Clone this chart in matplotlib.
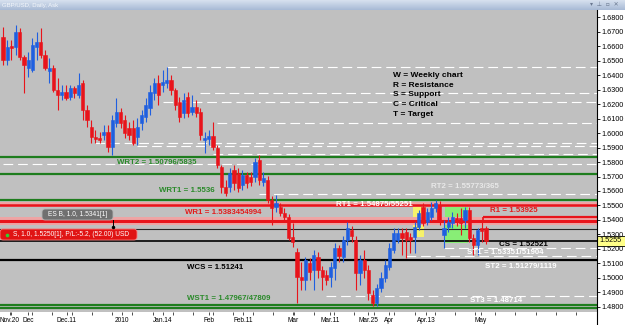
import numpy as np
import matplotlib
matplotlib.use("Agg")
import matplotlib.pyplot as plt
from matplotlib.patches import Rectangle, FancyBboxPatch
from matplotlib.colors import LinearSegmentedColormap

plt.rcParams['font.family'] = ['Liberation Sans', 'DejaVu Sans']
plt.rcParams['lines.scale_dashes'] = False

# GBP/USD daily candles, Nov 2009 - May 2010
opens = [1.6662, 1.6503, 1.6600, 1.6593, 1.6696, 1.6524, 1.6448, 1.6434, 1.6593, 1.6627,
         1.6538, 1.6427, 1.6448, 1.6296, 1.6262, 1.6282, 1.6248, 1.6310, 1.6262, 1.6344,
         1.6158, 1.6041, 1.5972, 1.5965, 1.5986, 1.6006, 1.5903, 1.6068, 1.6144, 1.6089,
         1.6034, 1.6034, 1.5972, 1.6068, 1.6110, 1.6172, 1.6276, 1.6344, 1.6331, 1.6344,
         1.6365, 1.6296, 1.6213, 1.6138, 1.6248, 1.6144, 1.6179, 1.6144, 1.5951, 1.5958,
         1.5979, 1.5896, 1.5765, 1.5627, 1.5627, 1.5744, 1.5724, 1.5641, 1.5710, 1.5696,
         1.5696, 1.5813, 1.5661, 1.5675, 1.5537, 1.5489, 1.5489, 1.5447, 1.5420, 1.5282,
         1.5179, 1.5006, 1.4985, 1.5102, 1.5054, 1.5144, 1.5054, 1.5020, 1.5006, 1.5068,
         1.5206, 1.5144, 1.5261, 1.5330, 1.5261, 1.5034, 1.5123, 1.5054, 1.4882, 1.4826,
         1.4930, 1.4999, 1.5075, 1.5192, 1.5261, 1.5310, 1.5316, 1.5282, 1.5282, 1.5351,
         1.5489, 1.5385, 1.5420, 1.5482, 1.5503, 1.5296, 1.5351, 1.5379, 1.5413, 1.5413,
         1.5399, 1.5468, 1.5275, 1.5227, 1.5344, 1.5344]
highs = [1.6731, 1.6641, 1.6641, 1.6745, 1.6724, 1.6538, 1.6558, 1.6655, 1.6696, 1.6724,
         1.6572, 1.6517, 1.6469, 1.6379, 1.6331, 1.6331, 1.6331, 1.6324, 1.6413, 1.6365,
         1.6193, 1.6089, 1.6020, 1.6006, 1.6055, 1.6055, 1.6124, 1.6241, 1.6172, 1.6124,
         1.6075, 1.6089, 1.6103, 1.6158, 1.6241, 1.6331, 1.6379, 1.6400, 1.6434, 1.6455,
         1.6400, 1.6310, 1.6248, 1.6276, 1.6282, 1.6262, 1.6227, 1.6172, 1.6006, 1.6020,
         1.6075, 1.5917, 1.5779, 1.5675, 1.5758, 1.5779, 1.5758, 1.5744, 1.5731, 1.5731,
         1.5827, 1.5848, 1.5731, 1.5703, 1.5565, 1.5572, 1.5516, 1.5482, 1.5441, 1.5379,
         1.5206, 1.5109, 1.5144, 1.5137, 1.5192, 1.5179, 1.5082, 1.5054, 1.5109, 1.5240,
         1.5227, 1.5289, 1.5385, 1.5358, 1.5289, 1.5158, 1.5192, 1.5089, 1.4916, 1.4957,
         1.5041, 1.5123, 1.5240, 1.5344, 1.5344, 1.5344, 1.5344, 1.5310, 1.5385, 1.5468,
         1.5516, 1.5482, 1.5523, 1.5537, 1.5530, 1.5399, 1.5420, 1.5455, 1.5447, 1.5482,
         1.5489, 1.5489, 1.5303, 1.5344, 1.5385, 1.5358]
lows = [1.6469, 1.6469, 1.6503, 1.6538, 1.6503, 1.6276, 1.6386, 1.6420, 1.6503, 1.6517,
        1.6434, 1.6344, 1.6282, 1.6158, 1.6227, 1.6227, 1.6227, 1.6241, 1.6241, 1.6089,
        1.6041, 1.5930, 1.5930, 1.5930, 1.5951, 1.5868, 1.5848, 1.6041, 1.6034, 1.5965,
        1.5951, 1.5917, 1.5917, 1.6020, 1.6075, 1.6124, 1.6227, 1.6193, 1.6282, 1.6310,
        1.6262, 1.6158, 1.6075, 1.6103, 1.6110, 1.6124, 1.6110, 1.5951, 1.5861, 1.5917,
        1.5882, 1.5758, 1.5585, 1.5565, 1.5592, 1.5606, 1.5592, 1.5606, 1.5620, 1.5634,
        1.5661, 1.5641, 1.5634, 1.5516, 1.5365, 1.5455, 1.5427, 1.5385, 1.5261, 1.5213,
        1.4826, 1.4916, 1.4916, 1.4985, 1.4916, 1.4999, 1.4916, 1.4951, 1.4937, 1.4985,
        1.5109, 1.5109, 1.5227, 1.5247, 1.4916, 1.4951, 1.4999, 1.4847, 1.4806, 1.4806,
        1.4902, 1.4971, 1.5054, 1.5172, 1.5240, 1.5158, 1.5137, 1.5172, 1.5172, 1.5330,
        1.5358, 1.5365, 1.5399, 1.5455, 1.5365, 1.5206, 1.5316, 1.5344, 1.5358, 1.5296,
        1.5344, 1.5247, 1.5158, 1.5158, 1.5247, 1.5234]
closes = [1.6503, 1.6593, 1.6586, 1.6696, 1.6524, 1.6469, 1.6503, 1.6607, 1.6627, 1.6538,
          1.6448, 1.6448, 1.6296, 1.6262, 1.6282, 1.6241, 1.6310, 1.6276, 1.6331, 1.6158,
          1.6089, 1.5972, 1.5958, 1.5951, 1.6006, 1.5903, 1.6089, 1.6144, 1.6068, 1.5999,
          1.5986, 1.5930, 1.6041, 1.6124, 1.6193, 1.6282, 1.6344, 1.6262, 1.6351, 1.6365,
          1.6296, 1.6193, 1.6110, 1.6227, 1.6138, 1.6179, 1.6138, 1.5986, 1.5965, 1.5979,
          1.5903, 1.5779, 1.5627, 1.5585, 1.5724, 1.5654, 1.5620, 1.5710, 1.5654, 1.5661,
          1.5799, 1.5675, 1.5689, 1.5537, 1.5482, 1.5516, 1.5447, 1.5420, 1.5275, 1.5247,
          1.5006, 1.4985, 1.5123, 1.5041, 1.5158, 1.5054, 1.5006, 1.4985, 1.5075, 1.5206,
          1.5151, 1.5261, 1.5344, 1.5289, 1.5034, 1.5123, 1.5054, 1.4896, 1.4826, 1.4930,
          1.4999, 1.5089, 1.5206, 1.5310, 1.5310, 1.5275, 1.5261, 1.5261, 1.5351, 1.5447,
          1.5379, 1.5455, 1.5482, 1.5516, 1.5385, 1.5344, 1.5385, 1.5420, 1.5385, 1.5379,
          1.5468, 1.5275, 1.5227, 1.5330, 1.5323, 1.5255]

# horizontal levels drawn on the chart
wrt2_levels = [1.5834, 1.5716]
wrt1_level = 1.5536
rt1_level = 1.5506
wr1_level = 1.5392
r1_level = 1.5420
es_level = 1.5341
cs_level = 1.5252
wcs_level = 1.5124
wst1_levels = [1.4816, 1.4793]
last_price = 1.5255

# white dashed swing lines: level and the candle they start from
swing_levels = [1.6455, 1.6276, 1.6213, 1.6068, 1.5930, 1.5910, 1.5855, 1.5786,
                1.5579, 1.5206, 1.5151, 1.4875]
swing_starts = [39, 47, 38, 51, 22, 32, 50, 0, 61, 105, 96, 77]

# highlighted zones (candle range, price range)
yellow_zone = [97.6, 100.2, 1.5282, 1.5503]
green_zone = [105.2, 110.7, 1.5240, 1.5489]

date_labels = ["Nov.20", "Dec", "Dec.11", "2010", "Jan.14", "Feb", "Feb.11", "Mar",
               "Mar.11", "Mar.25", "Apr", "Apr.13", "May"]
date_pos = [1.6, 6, 15.2, 28.3, 38.1, 49, 57.1, 69, 77.9, 86.9, 91.9, 100.7, 113.8]

legend_lines = ["W = Weekly chart", "R = Resistance", "S = Support", "C = Critical", "T = Target"]

W, H = 625, 325
fig = plt.figure(figsize=(6.25, 3.25), dpi=100)
fig.patch.set_facecolor('white')


def px_box(x0, y0, w, h):
    return [x0 / W, 1 - (y0 + h) / H, w / W, h / H]


ax = fig.add_axes(px_box(0, 10, 597, 302))
ax.set_facecolor('#c0c0c0')
x_end = 141.43

# zones
for zone, col in [(yellow_zone, '#f6f26a'), (green_zone, '#88ee76')]:
    ax.add_patch(Rectangle((zone[0], zone[2]), zone[1] - zone[0], zone[3] - zone[2],
                           facecolor=col, edgecolor='none', zorder=1))

# dashed swing lines
for lev, st in zip(swing_levels, swing_starts):
    ax.hlines(lev, st, x_end, colors='white', lw=0.8, linestyles=[(0, (7, 3.5))], zorder=2)

# pink bands behind the red lines
ax.axhspan(rt1_level - 0.0018, rt1_level + 0.0017, color='#eea4a4', lw=0, zorder=2)
ax.axhspan(wr1_level - 0.0025, wr1_level + 0.0028, color='#eea4a4', lw=0, zorder=2)

for lev in wrt2_levels + [wrt1_level] + wst1_levels:
    ax.axhline(lev, color='#1e7d1e', lw=1.6, zorder=3)
ax.axhline(rt1_level, color='#e8141b', lw=1.8, zorder=3)
ax.axhline(wr1_level, color='#e8141b', lw=2.2, zorder=3)
ax.hlines(r1_level, 114.3, x_end, colors='#e8141b', lw=1.6, zorder=3)
ax.vlines(114.3, wr1_level, r1_level, colors='#e8141b', lw=1.2, zorder=3)
ax.vlines(103.6, wr1_level, rt1_level, colors='#e8141b', lw=1.2, zorder=3)
ax.axhline(es_level, color='#262626', lw=0.8, zorder=3)
ax.axhline(cs_level, color='black', lw=1.2, zorder=3)
ax.axhline(wcs_level, color='black', lw=1.6, zorder=3)

# candles
idx = np.arange(len(opens))
o = np.array(opens)
c = np.array(closes)
cols = np.where(c >= o, '#1f5fe0', '#e8141b')
ax.vlines(idx, lows, highs, colors=cols, lw=0.8, zorder=4)
ax.bar(idx, np.abs(c - o), bottom=np.minimum(o, c), width=0.72, color=cols,
       edgecolor=cols, lw=0.4, zorder=5)

ax.set_xlim(-0.714, x_end)
ax.set_ylim(1.47655, 1.68483)
for s in ax.spines.values():
    s.set_visible(False)

ax.yaxis.tick_right()
yt = np.round(np.arange(1.48, 1.6801, 0.01), 2)
ax.set_yticks(yt)
ax.set_yticklabels(['%.4f' % v for v in yt])
ax.tick_params(axis='y', labelsize=5.2, length=2, width=0.6, pad=1, colors='black')

ax.set_xticks(date_pos)
ax.set_xticklabels(date_labels)
ax.set_xticks(np.arange(2.0, 141, 4.8), minor=True)
ax.tick_params(axis='x', which='both', length=2.5, width=0.6, color='#303030',
               labelsize=4.7, pad=0.8)

# overlay in pixel coordinates for title bar, labels and order boxes
ov = fig.add_axes([0, 0, 1, 1], zorder=10)
ov.patch.set_alpha(0)
grad = np.linspace(0, 1, 12)[:, None]
ov.imshow(grad, cmap=LinearSegmentedColormap.from_list('bar', ['#d6e0ee', '#a9bbd6']),
          extent=[0, W, 10, 0], aspect='auto')
ov.set_xlim(0, W)
ov.set_ylim(H, 0)
ov.axis('off')
ov.text(2, 5, "GBP/USD, Daily, Ask", fontsize=4.3, color='#f4f7fb', va='center', ha='left')
ov.text(619, 5, "▾  ⊥  ▫  ✕", fontsize=4.3, color='#6a7890', va='center', ha='right',
        family='DejaVu Sans')
ov.plot([596.5, 596.5], [10, H], color='black', lw=0.8)


def label(x, y, s, color, size=5.7):
    ov.text(x, y, s, color=color, fontsize=size, fontweight='bold', ha='left', va='center')


green_t = '#2a8a2a'
label(117, 163, "WRT2 = 1.50796/5835", green_t)
label(159, 191, "WRT1 = 1.5536", green_t)
label(187, 298, "WST1 = 1.47967/47809", green_t)
label(336, 204.5, "RT1 = 1.54875/55251", 'white')
label(431, 187, "RT2 = 1.55773/365", '#e8e8e8')
label(185, 213, "WR1 = 1.5383454994", '#e31b1b')
label(490, 211, "R1 = 1.53925", '#e31b1b')
label(499, 244, "CS = 1.52521", 'black')
label(187, 267.5, "WCS = 1.51241", 'black')
label(467, 253, "ST1 = 1.53351/51904", 'white')
label(485, 266.5, "ST2 = 1.51279/1119", 'white')
label(470, 300.5, "ST3 = 1.48714", 'white')

for k, s in enumerate(legend_lines):
    ov.text(393, 75.7 + k * 9.6, s, fontsize=6, fontweight='bold', color='black',
            ha='left', va='center')

# order tags
ov.add_patch(FancyBboxPatch((42, 209), 71, 11, boxstyle='round,pad=0,rounding_size=3',
                            fc='#707070', ec='#b4b4b4', lw=0.6))
ov.text(77.5, 214.5, "ES B, 1.0, 1.5341[1]", fontsize=4.8, color='white', ha='center', va='center')
ov.plot([113, 113], [220, 227], color='black', lw=0.7)
ov.plot([113], [227], marker='o', ms=1.5, color='black')
ov.add_patch(FancyBboxPatch((0, 229), 137, 11, boxstyle='round,pad=0,rounding_size=3',
                            fc='#e01414', ec='#ff7878', lw=0.6))
ov.plot([7], [234.5], marker='o', ms=1.6, color='#30d030')
ov.text(13, 234.5, "S, 1.0, 1.5250[1], P/L:-5.2, (52.00) USD", fontsize=4.8, color='white',
        ha='left', va='center')

# current price tag on the price scale
ov.add_patch(Rectangle((597, 236), 28, 9.5, fc='#ffff88', ec='black', lw=0.6))
ov.text(599, 241, '%.4f' % last_price, fontsize=5.2, color='black', ha='left', va='center')

fig.savefig('out.png', dpi=100)
